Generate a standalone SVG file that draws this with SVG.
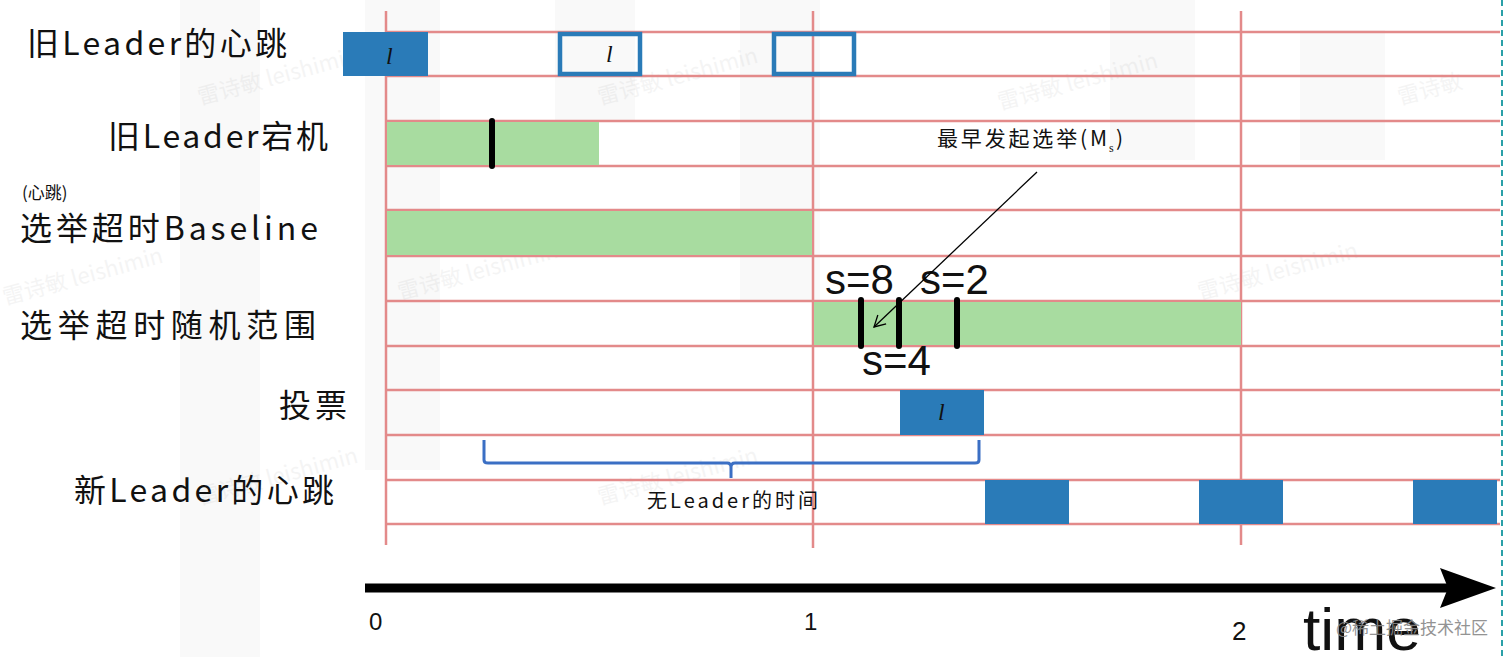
<svg xmlns="http://www.w3.org/2000/svg" width="1512" height="657" viewBox="0 0 1512 657">
<style>
.grid{stroke:#e38a8a;stroke-width:2.5;fill:none}
.lbl{font-family:"Noto Sans CJK SC","Liberation Sans",sans-serif;font-size:32px;fill:#111}
.hb{fill:#2a7bb8}
.hbo{fill:none;stroke:#2a7bb8;stroke-width:4.5}
.grn{fill:#a8dca0}
.tick{stroke:#000;stroke-width:6;stroke-linecap:round}
.ell{font-family:"Liberation Serif",serif;font-style:italic;font-size:24px;fill:#111}
.sv{font-family:"Liberation Sans",Arial,sans-serif;font-size:42px;fill:#111}
.wm{font-family:"Noto Sans CJK SC","Liberation Sans",sans-serif;font-size:22px;fill:#000;opacity:0.04}
.band{fill:#000;opacity:0.022}
.ann{font-family:"Noto Sans CJK SC","Liberation Serif",serif;font-size:21px;fill:#111}
</style>
<defs>
<marker id="open" markerWidth="14" markerHeight="14" refX="12" refY="7" orient="auto" markerUnits="userSpaceOnUse">
<path d="M1,1 L12,7 L1,13" fill="none" stroke="#000" stroke-width="1.3"/>
</marker>
</defs>
<rect width="1512" height="657" fill="#fff"/>
<g id="background">
<rect class="band" x="180" y="0" width="80" height="657"/>
<rect class="band" x="365" y="0" width="75" height="470"/>
<rect class="band" x="555" y="0" width="80" height="120"/>
<rect class="band" x="740" y="0" width="80" height="300"/>
<rect class="band" x="1110" y="0" width="85" height="160"/>
<rect class="band" x="1300" y="30" width="85" height="130"/>
<text class="wm" transform="translate(200,105) rotate(-15)">雷诗敏 leishimin</text>
<text class="wm" transform="translate(600,105) rotate(-15)">雷诗敏 leishimin</text>
<text class="wm" transform="translate(1000,110) rotate(-15)">雷诗敏 leishimin</text>
<text class="wm" transform="translate(1400,105) rotate(-15)">雷诗敏</text>
<text class="wm" transform="translate(5,305) rotate(-15)">雷诗敏 leishimin</text>
<text class="wm" transform="translate(400,300) rotate(-15)">雷诗敏 leishimin</text>
<text class="wm" transform="translate(1200,300) rotate(-15)">雷诗敏 leishimin</text>
<text class="wm" transform="translate(200,505) rotate(-15)">雷诗敏 leishimin</text>
<text class="wm" transform="translate(600,505) rotate(-15)">雷诗敏 leishimin</text>
</g>
<g id="grid">
<path class="grid" d="M386,11V545 M813,11V548 M1241,11V545"/>
<path class="grid" d="M386,32H1500 M386,76H1500 M386,121H1500 M386,166H1500 M386,210H1500 M386,256H1500 M386,301H1500 M386,346H1500 M386,390H1500 M386,435H1500 M386,480H1500 M386,524H1500"/>
<line x1="1502" y1="0" x2="1502" y2="657" stroke="#2aa0a8" stroke-width="2" stroke-dasharray="6,4"/>
</g>
<g id="labels">
<text class="lbl" x="27" y="55" textLength="260" lengthAdjust="spacing">旧Leader的心跳</text>
<text class="lbl" x="108" y="148" textLength="220" lengthAdjust="spacing">旧Leader宕机</text>
<text x="22" y="199" font-family="Noto Sans CJK SC,Liberation Sans,sans-serif" font-size="17" fill="#111">(心跳)</text>
<text class="lbl" x="20" y="240" textLength="298" lengthAdjust="spacing">选举超时Baseline</text>
<text class="lbl" x="20" y="337" textLength="296" lengthAdjust="spacing">选举超时随机范围</text>
<text class="lbl" x="279" y="417" textLength="68" lengthAdjust="spacing">投票</text>
<text class="lbl" x="74" y="502" textLength="260" lengthAdjust="spacing">新Leader的心跳</text>
</g>
<g id="old-leader-heartbeat">
<rect class="hb" x="343" y="32" width="85" height="44"/>
<text class="ell" x="386" y="64">l</text>
<rect class="hbo" x="560" y="34" width="80" height="40"/>
<text class="ell" x="606" y="62">l</text>
<rect class="hbo" x="774" y="34" width="80" height="40"/>
</g>
<g id="old-leader-down">
<rect class="grn" x="387" y="122" width="212" height="43"/>
<line class="tick" x1="492" y1="121" x2="492" y2="166"/>
</g>
<g id="baseline">
<rect class="grn" x="387" y="211" width="425" height="44"/>
</g>
<g id="random-range">
<rect class="grn" x="814" y="302" width="427" height="43"/>
<line class="tick" x1="861" y1="300" x2="861" y2="346"/>
<line class="tick" x1="899" y1="300" x2="899" y2="346"/>
<line class="tick" x1="957" y1="300" x2="957" y2="346"/>
<text class="sv" x="825" y="294">s=8</text>
<text class="sv" x="920" y="294">s=2</text>
<text class="sv" x="862" y="375">s=4</text>
</g>
<g id="vote">
<rect class="hb" x="900" y="390" width="84" height="45"/>
<text class="ell" x="938" y="420">l</text>
</g>
<g id="new-leader-heartbeat">
<rect class="hb" x="985" y="480" width="84" height="44"/>
<rect class="hb" x="1199" y="480" width="84" height="44"/>
<rect class="hb" x="1413" y="480" width="84" height="44"/>
</g>
<g id="annotation">
<text class="ann" x="937" y="146" textLength="170" lengthAdjust="spacing">最早发起选举(M</text>
<text x="1109" y="152" font-family="Liberation Serif,serif" font-size="12" fill="#111">s</text>
<text class="ann" x="1116" y="146">)</text>
</g>
<g id="no-leader">
<path d="M484,440 V460 Q484,463 488,463 H727 Q731,463 731,467 V478 M731,467 Q731,463 735,463 H975 Q979,463 979,460 V440" fill="none" stroke="#3b6fc4" stroke-width="3"/>
<text x="647" y="508" font-family="Noto Sans CJK SC,Liberation Sans,sans-serif" font-size="20" fill="#111" textLength="171" lengthAdjust="spacing">无Leader的时间</text>
</g>
<g id="connectors">
<line x1="1037" y1="172" x2="874" y2="327" stroke="#000" stroke-width="1.3" marker-end="url(#open)"/>
<line x1="365" y1="588" x2="1448" y2="588" stroke="#000" stroke-width="9"/>
<polygon points="1440,568 1496,588 1440,608 1448,588" fill="#000"/>
</g>
<g id="axis-labels">
<text x="369" y="630" font-family="Liberation Sans,sans-serif" font-size="24" fill="#111">0</text>
<text x="804" y="630" font-family="Liberation Sans,sans-serif" font-size="24" fill="#111">1</text>
<text x="1232" y="640" font-family="Liberation Sans,sans-serif" font-size="26" fill="#111">2</text>
<text x="1303" y="650" font-family="Liberation Sans,sans-serif" font-size="60" fill="#111" textLength="118" lengthAdjust="spacingAndGlyphs">time</text>
<text x="1336" y="634" font-family="Noto Sans CJK SC,Liberation Sans,sans-serif" font-size="17" fill="#888" opacity="0.9">@稀土掘金技术社区</text>
</g>
</svg>
